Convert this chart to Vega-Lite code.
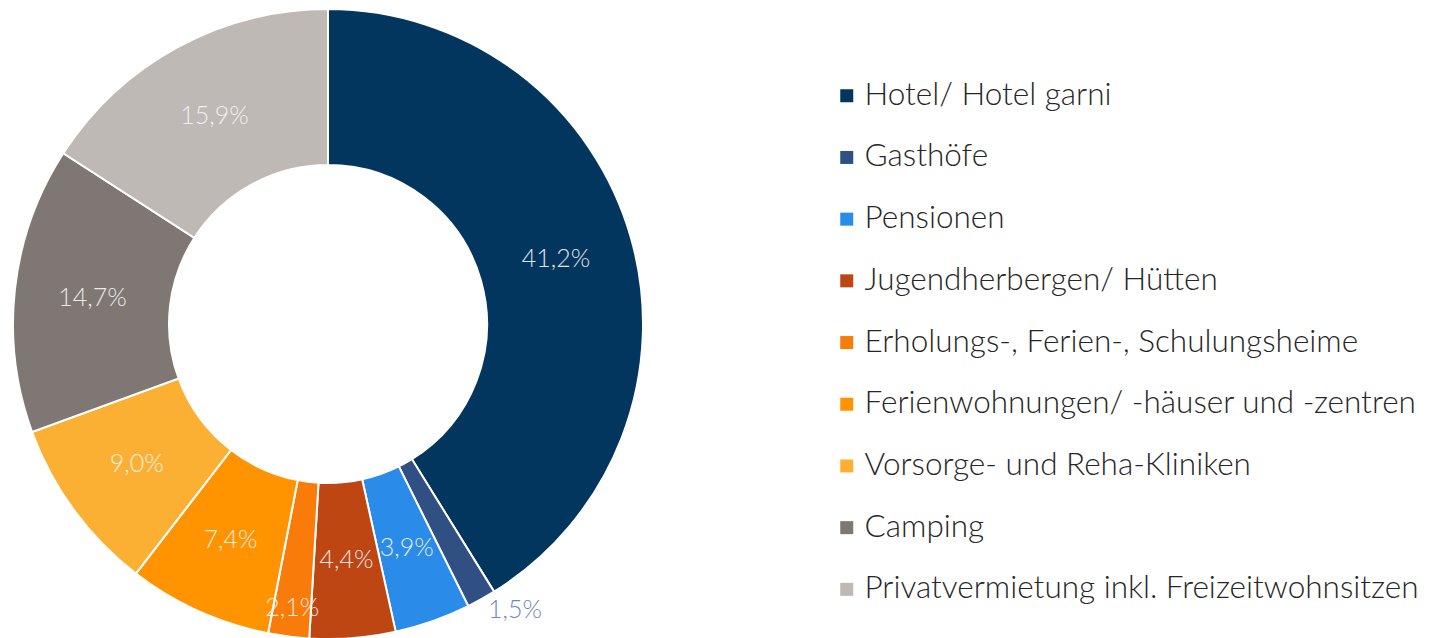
{
  "$schema": "https://vega.github.io/schema/vega-lite/v6.json",
  "width": 656,
  "height": 638,
  "padding": 0,
  "autosize": {"type": "pad"},
  "background": "white",
  "config": {"view": {"stroke": null}, "font": "Lato"},
  "data": {
    "values": [
      {"rank": 1, "cat": "Hotel/ Hotel garni", "value": 41.2, "label": "41,2%"},
      {"rank": 2, "cat": "Gasthöfe", "value": 1.5, "label": "1,5%"},
      {"rank": 3, "cat": "Pensionen", "value": 3.9, "label": "3,9%"},
      {"rank": 4, "cat": "Jugendherbergen/ Hütten", "value": 4.4, "label": "4,4%"},
      {"rank": 5, "cat": "Erholungs-, Ferien-, Schulungsheime", "value": 2.1, "label": "2,1%"},
      {"rank": 6, "cat": "Ferienwohnungen/ -häuser und -zentren", "value": 7.4, "label": "7,4%"},
      {"rank": 7, "cat": "Vorsorge- und Reha-Kliniken", "value": 9.0, "label": "9,0%"},
      {"rank": 8, "cat": "Camping", "value": 14.7, "label": "14,7%"},
      {"rank": 9, "cat": "Privatvermietung inkl. Freizeitwohnsitzen", "value": 15.9, "label": "15,9%"}
    ]
  },
  "encoding": {
    "theta": {"field": "value", "type": "quantitative", "stack": true},
    "order": {"field": "rank", "type": "quantitative"}
  },
  "layer": [
    {
      "mark": {"type": "arc", "outerRadius": 315, "innerRadius": 159, "stroke": "white", "strokeWidth": 2, "yOffset": 5},
      "encoding": {
        "color": {
          "field": "cat",
          "type": "nominal",
          "sort": null,
          "scale": {
            "domain": ["Hotel/ Hotel garni", "Gasthöfe", "Pensionen", "Jugendherbergen/ Hütten", "Erholungs-, Ferien-, Schulungsheime", "Ferienwohnungen/ -häuser und -zentren", "Vorsorge- und Reha-Kliniken", "Camping", "Privatvermietung inkl. Freizeitwohnsitzen"],
            "range": ["#03365E", "#304F82", "#2A8BE8", "#BD4612", "#F97B0A", "#FF9300", "#FBB034", "#7E7774", "#BEB9B5"]
          },
          "legend": {
            "orient": "none",
            "legendX": 831,
            "legendY": 80,
            "title": null,
            "symbolType": "square",
            "symbolSize": 169,
            "symbolStrokeWidth": 0,
            "labelFont": "Lato",
            "labelFontSize": 31.5,
            "labelFontWeight": 300,
            "labelColor": "#262626",
            "labelLimit": 0,
            "labelOffset": 2,
            "rowPadding": 28.7,
            "padding": 0
          }
        }
      }
    },
    {
      "mark": {
        "type": "text",
        "yOffset": 5,
        "font": "Lato",
        "fontSize": 25,
        "fontWeight": 300,
        "radius": {"expr": "datum.cat === 'Gasthöfe' ? 342 : datum.cat === 'Erholungs-, Ferien-, Schulungsheime' ? 286 : 237"},
        "thetaOffset": {"expr": "datum.cat === 'Gasthöfe' ? -0.07 : 0"}
      },
      "encoding": {
        "text": {"field": "label", "type": "nominal"},
        "color": {
          "condition": {"test": "datum.cat === 'Gasthöfe'", "value": "#7088C0"},
          "value": "#F6F6F6"
        },
        "opacity": {
          "condition": {"test": "datum.cat === 'Gasthöfe'", "value": 1},
          "value": 0.9
        }
      }
    }
  ]
}
